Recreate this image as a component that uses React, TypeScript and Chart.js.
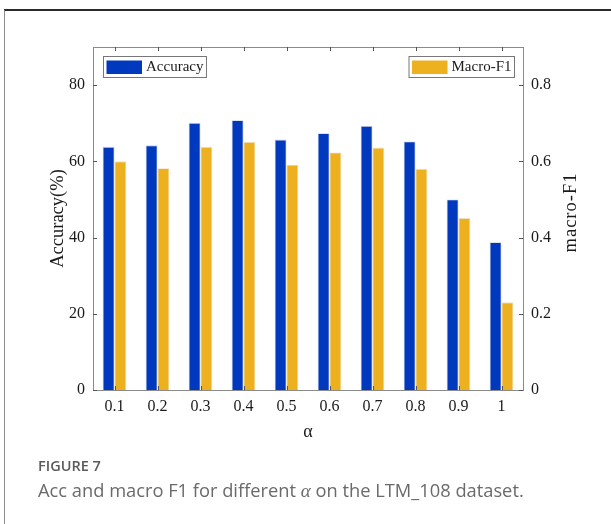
import React, { useEffect, useRef } from "react";
import { Chart, registerables } from "chart.js";

Chart.register(...registerables);

const alphaLabels = ["0.1", "0.2", "0.3", "0.4", "0.5", "0.6", "0.7", "0.8", "0.9", "1"];
const accuracyValues = [63.8, 64.2, 70.1, 70.8, 65.7, 67.4, 69.3, 65.2, 50.0, 38.8];
const macroF1Values = [0.6, 0.582, 0.638, 0.651, 0.591, 0.623, 0.636, 0.58, 0.451, 0.23];
const seriesNames = ["Accuracy", "Macro-F1"];
const leftAxisTitle = "Accuracy(%)";
const rightAxisTitle = "macro-F1";
const xAxisTitle = "α";

const SERIF = "'Liberation Serif', 'Times New Roman', serif";
const AXIS_GRAY = "#8a8a8a";
const TEXT = "#1a1a1a";
const BLUE = "#0039be";
const YELLOW = "#edb120";

const decorPlugin = {
  id: "decor",
  afterDatasetsDraw(chart: any) {
    const { ctx, chartArea } = chart;
    const { left, right, top, bottom } = chartArea;
    const x = chart.scales.x;
    const y = chart.scales.y;
    const y1 = chart.scales.y1;
    ctx.save();
    ctx.strokeStyle = AXIS_GRAY;
    ctx.lineWidth = 1;
    ctx.beginPath();
    ctx.moveTo(left, top + 0.5);
    ctx.lineTo(right, top + 0.5);
    ctx.stroke();
    ctx.strokeStyle = "#555";
    x.ticks.forEach((_t: any, i: number) => {
      const px = Math.round(x.getPixelForTick(i)) + 0.5;
      ctx.beginPath();
      ctx.moveTo(px, top);
      ctx.lineTo(px, top + 4);
      ctx.moveTo(px, bottom);
      ctx.lineTo(px, bottom - 4);
      ctx.stroke();
    });
    y.ticks.forEach((t: any) => {
      const py = Math.round(y.getPixelForValue(t.value)) + 0.5;
      ctx.beginPath();
      ctx.moveTo(left, py);
      ctx.lineTo(left + 4, py);
      ctx.stroke();
    });
    y1.ticks.forEach((t: any) => {
      const py = Math.round(y1.getPixelForValue(t.value)) + 0.5;
      ctx.beginPath();
      ctx.moveTo(right, py);
      ctx.lineTo(right - 4, py);
      ctx.stroke();
    });

    ctx.font = `15px ${SERIF}`;
    ctx.textBaseline = "middle";
    ctx.textAlign = "left";
    const drawLegend = (bx: number, by: number, label: string, color: string) => {
      const tw = ctx.measureText(label).width;
      const bw = 3.5 + 35.5 + 4 + tw + 3.5;
      const bh = 22;
      ctx.fillStyle = "#fff";
      ctx.fillRect(bx, by, bw, bh);
      ctx.strokeStyle = "#777";
      ctx.lineWidth = 1;
      ctx.strokeRect(bx + 0.5, by + 0.5, bw - 1, bh - 1);
      ctx.fillStyle = color;
      ctx.fillRect(bx + 3.5, by + 4.5, 35.5, 13.5);
      ctx.fillStyle = TEXT;
      ctx.fillText(label, bx + 43, by + bh / 2 + 0.5);
      return bw;
    };
    drawLegend(left + 10, top + 9, chart.data.datasets[0].label, chart.data.datasets[0].backgroundColor);
    const lbl = chart.data.datasets[1].label;
    const tw2 = ctx.measureText(lbl).width;
    const bw2 = 3.5 + 35.5 + 4 + tw2 + 3.5;
    drawLegend(right - 8 - bw2, top + 9, lbl, chart.data.datasets[1].backgroundColor);

    ctx.save();
    ctx.translate(571, (top + bottom) / 2 - 6);
    ctx.rotate(-Math.PI / 2);
    ctx.font = `18.5px ${SERIF}`;
    try {
      (ctx as any).letterSpacing = "1px";
    } catch (e) {}
    ctx.textAlign = "center";
    ctx.textBaseline = "middle";
    ctx.fillStyle = TEXT;
    ctx.fillText(rightAxisTitle, 0, 0);
    ctx.restore();
    ctx.restore();
  },
};

export default function App() {
  const canvasRef = useRef<HTMLCanvasElement | null>(null);

  useEffect(() => {
    if (!canvasRef.current) return;
    const tickFont = { family: SERIF, size: 16 };
    const chart = new Chart(canvasRef.current, {
      type: "bar",
      data: {
        labels: alphaLabels,
        datasets: [
          {
            label: seriesNames[0],
            data: accuracyValues,
            backgroundColor: BLUE,
            borderColor: "rgba(190,200,225,0.9)",
            borderWidth: 0.8,
            yAxisID: "y",
            categoryPercentage: 0.55,
            barPercentage: 1.0,
          },
          {
            label: seriesNames[1],
            data: macroF1Values,
            backgroundColor: YELLOW,
            borderColor: "rgba(240,220,180,0.9)",
            borderWidth: 0.8,
            yAxisID: "y1",
            categoryPercentage: 0.55,
            barPercentage: 1.0,
          },
        ],
      },
      options: {
        responsive: false,
        animation: false,
        devicePixelRatio: 1,
        layout: { padding: { top: 47, left: 0, right: 0, bottom: 0 } },
        plugins: {
          legend: { display: false },
          tooltip: { enabled: false },
        },
        scales: {
          x: {
            position: "bottom",
            grid: { display: false, drawTicks: false },
            border: { display: true, color: AXIS_GRAY, width: 1 },
            ticks: { color: TEXT, font: tickFont, padding: 7, maxRotation: 0, autoSkip: false },
            title: {
              display: true,
              text: xAxisTitle,
              color: TEXT,
              font: { family: SERIF, size: 18 },
              padding: { top: 0, bottom: 17 },
            },
            afterFit: (s: any) => {
              s.height = 70;
            },
          },
          y: {
            position: "left",
            min: 0,
            max: 90,
            grid: { display: false, drawTicks: false },
            border: { display: true, color: AXIS_GRAY, width: 1 },
            ticks: { stepSize: 20, includeBounds: false, color: TEXT, font: tickFont, padding: 8 },
            title: {
              display: true,
              text: leftAxisTitle,
              color: TEXT,
              font: { family: SERIF, size: 18.5 },
              padding: { top: 47, bottom: 0 },
            },
            afterFit: (s: any) => {
              s.width = 93;
            },
          },
          y1: {
            position: "right",
            min: 0,
            max: 0.9,
            grid: { display: false, drawTicks: false },
            border: { display: true, color: AXIS_GRAY, width: 1 },
            ticks: {
              stepSize: 0.2,
              includeBounds: false,
              color: TEXT,
              font: tickFont,
              padding: 8,
              callback: (v: any) => (Number(v) === 0 ? "0" : Number(v).toFixed(1)),
            },
            afterFit: (s: any) => {
              s.width = 88;
            },
          },
        },
      },
      plugins: [decorPlugin],
    } as any);
    return () => chart.destroy();
  }, []);

  return (
    <div
      style={{
        position: "absolute",
        left: 0,
        top: 0,
        width: 611,
        height: 524,
        overflow: "hidden",
        background: "#fff",
      }}
    >
      <div
        style={{
          position: "absolute",
          left: 4,
          top: 9,
          width: 700,
          height: 700,
          borderTop: "2px solid #2a2a2a",
          borderLeft: "1px solid #8a8a8a",
        }}
      />
      <canvas
        ref={canvasRef}
        width={611}
        height={460}
        style={{ position: "absolute", left: 0, top: 0, width: 611, height: 460 }}
      />
      <div
        style={{
          position: "absolute",
          left: 38,
          top: 457,
          fontFamily: "'Open Sans', 'Noto Sans', sans-serif",
          fontSize: 14.5,
          lineHeight: "18px",
          fontWeight: 600,
          color: "#5a5a5a",
          whiteSpace: "nowrap",
        }}
      >
        FIGURE 7
      </div>
      <div
        style={{
          position: "absolute",
          left: 38,
          top: 479,
          fontFamily: "'Open Sans', 'Noto Sans', sans-serif",
          fontSize: 18.3,
          lineHeight: "22px",
          color: "#6a6a6a",
          whiteSpace: "nowrap",
        }}
      >
        Acc and macro F1 for different{" "}
        <span style={{ fontFamily: SERIF, fontStyle: "italic", fontSize: 19 }}>α</span> on the LTM_108
        dataset.
      </div>
    </div>
  );
}
